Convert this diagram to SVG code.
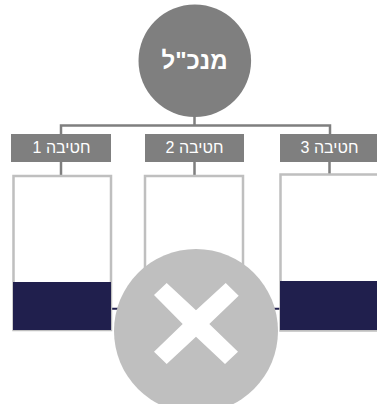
<svg xmlns="http://www.w3.org/2000/svg" width="377" height="404" viewBox="0 0 377 404">
<style>
.conn{stroke:#7f7f7f;stroke-width:2.500;fill:none}
.box{fill:#7f7f7f}
.lbl{font-family:"Liberation Sans",Arial,sans-serif;font-size:16px;fill:#fff;text-anchor:middle}
.frame{fill:#fff;stroke:#bfbfbf;stroke-width:2.500}
.navy{fill:#201f4d}
</style>
<rect width="377" height="404" fill="#fff"/>
<g id="connectors">
<path class="conn" d="M194.500 115V125.500M61 134V125.500H330V134M61 162V176M194.500 162V176M329.500 162V175"/>
<path d="M111 308.700H280" stroke="#201f4d" stroke-width="2" fill="none"/>
</g>
<g id="ceo">
<circle cx="194.800" cy="60.700" r="56.300" fill="#7f7f7f"/>
<text x="194.500" y="69" font-family="'Liberation Sans',Arial,sans-serif" font-size="24" font-weight="bold" fill="#fff" text-anchor="middle">מנכ"ל</text>
</g>
<g id="brigade1">
<rect class="box" x="11" y="134" width="100" height="28"/>
<text class="lbl" x="61.500" y="153.300">חטיבה 1</text>
</g>
<g id="brigade2">
<rect class="box" x="145" y="134" width="99" height="28"/>
<text class="lbl" x="194.500" y="153.300">חטיבה 2</text>
</g>
<g id="brigade3">
<rect class="box" x="280" y="134" width="97" height="28"/>
<text class="lbl" x="329.500" y="153.300">חטיבה 3</text>
</g>
<g id="frame1">
<rect class="frame" x="13.500" y="176" width="97.500" height="154"/>
<rect class="navy" x="13" y="282" width="98" height="48"/>
</g>
<g id="frame2">
<rect class="frame" x="145" y="176" width="98" height="154"/>
</g>
<g id="frame3">
<rect class="frame" x="280.500" y="174.500" width="100" height="156"/>
<rect class="navy" x="280" y="281" width="97" height="49"/>
</g>
<g id="cross">
<circle cx="196" cy="331" r="82" fill="#bfbfbf"/>
<polygon fill="#fff" points="154,295 166.700,283 196,310.300 225.700,283 238.700,295.700 209.300,324 238,351.700 225,364 196,336.700 166.700,364 154,351.700 182.700,324"/>
</g>
</svg>
